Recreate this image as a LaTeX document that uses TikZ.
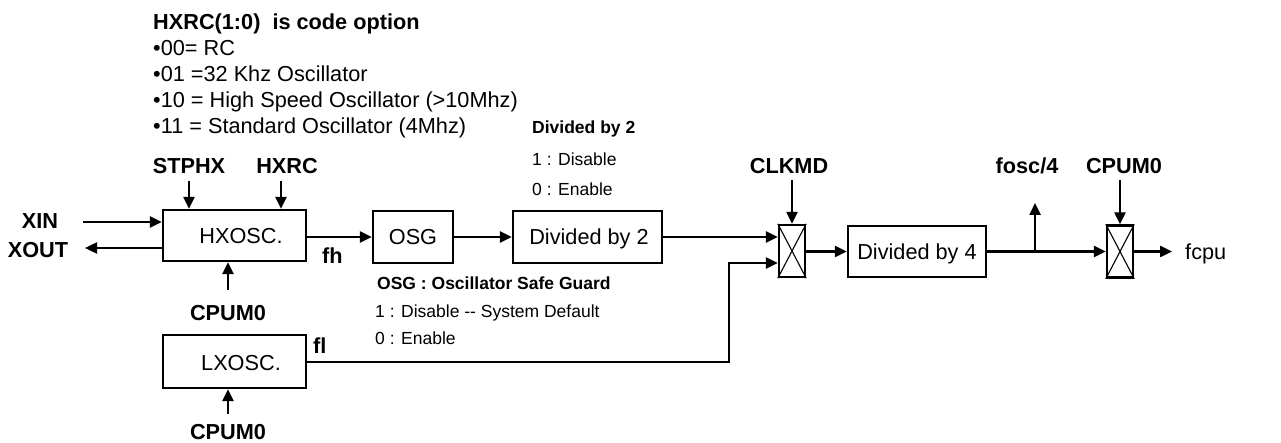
\documentclass[tikz,border=0pt]{standalone}
\usepackage{fontspec}
\setmainfont{Liberation Sans}
\usetikzlibrary{arrows.meta}
\begin{document}
\begin{tikzpicture}[x=1pt,y=-1pt,
  big/.style={font=\fontsize{21.7}{26}\selectfont, inner sep=0pt},
  bigb/.style={font=\bfseries\fontsize{21.7}{26}\selectfont, inner sep=0pt},
  small/.style={font=\fontsize{17.5}{21}\selectfont, inner sep=0pt, anchor=base west},
  smallb/.style={font=\bfseries\fontsize{17.5}{21}\selectfont, inner sep=0pt, anchor=base west},
  blk/.style={draw, line width=2.4pt, inner sep=0pt},
  muxbox/.style={draw, line width=2.4pt, inner sep=0pt, minimum width=26pt, minimum height=52pt},
  wire/.style={line width=2.4pt},
  arr/.style={wire, -{Triangle[length=12pt,width=11pt]}},
  xline/.style={line width=1.1pt},
]
\useasboundingbox (0,0) rectangle (1281,443);

% top text block
\node[bigb, anchor=base west] (title) at (153,30) {HXRC(1:0)\ \ is code option};
\node[big, anchor=base west] (b1) at (153,56) {•00= RC};
\node[big, anchor=base west] (b2) at (153,82) {•01 =32 Khz Oscillator};
\node[big, anchor=base west] (b3) at (153,108) {•10 = High Speed Oscillator (>10Mhz)};
\node[big, anchor=base west] (b4) at (153,134) {•11 = Standard Oscillator (4Mhz)};

\node[smallb] (d2t) at (532,134) {Divided by 2};
\node[small] (d2a) at (532,166) {1 : Disable};
\node[small] (d2b) at (532,196) {0 : Enable};

\node[smallb] (osgt) at (377,290) {OSG : Oscillator Safe Guard};
\node[small] (osga) at (375,317) {1 : Disable {-}{-} System Default};
\node[small] (osgb) at (375,344) {0 : Enable};

% blocks
\node[blk, minimum width=143pt, minimum height=51pt] (hx) at (234.5,235.5) {};
\node[big, anchor=base] (hxt) at (241,244) {HXOSC.};
\node[blk, minimum width=143pt, minimum height=53pt] (lx) at (234.5,361.5) {};
\node[big, anchor=base] (lxt) at (241,370) {LXOSC.};
\node[blk, minimum width=80pt, minimum height=52pt] (osg) at (413,237) {};
\node[big, anchor=base] (osgtx) at (413,245) {OSG};
\node[blk, minimum width=149pt, minimum height=52pt] (d2) at (587.5,237) {};
\node[big, anchor=base] (d2tx) at (589,245) {Divided by 2};
\node[muxbox] (m1) at (792,251) {};
\node[blk, minimum width=138pt, minimum height=51pt] (d4) at (917,251.5) {};
\node[big, anchor=base] (d4tx) at (917,259.5) {Divided by 4};
\node[muxbox] (m2) at (1120,251.5) {};
\draw[xline] (m1.north west) -- (m1.south east) (m1.north east) -- (m1.south west);
\draw[xline] (m2.north west) -- (m2.south east) (m2.north east) -- (m2.south west);

% labels
\node[bigb, anchor=base] (xin) at (40,229) {XIN};
\node[bigb, anchor=base] (xout) at (38,258) {XOUT};
\node[bigb, anchor=base] (stphx) at (189,174) {STPHX};
\node[bigb, anchor=base] (hxrc) at (287,174) {HXRC};
\node[bigb, anchor=base] (cpa) at (228,320) {CPUM0};
\node[bigb, anchor=base] (cpb) at (228,439) {CPUM0};
\node[bigb, anchor=base west] (fh) at (322,264) {fh};
\node[bigb, anchor=base west] (fl) at (313,353) {fl};
\node[bigb, anchor=base] (clkmd) at (789,174) {CLKMD};
\node[bigb, anchor=base] (fosc) at (1027,174) {fosc/4};
\node[bigb, anchor=base] (cpc) at (1124,174) {CPUM0};
\node[big, anchor=base west] (fcpu) at (1185,260) {fcpu};

% control arrows
\coordinate (xinS) at (83,222);
\coordinate (xoutE) at (85,248);
\draw[arr] (xinS) -- (xinS -| hx.west);
\draw[arr] (xoutE -| hx.west) -- (xoutE);
\coordinate (stS) at (189,181);
\coordinate (hrS) at (281,181);
\draw[arr] (stS) -- (stS |- hx.north);
\draw[arr] (hrS) -- (hrS |- hx.north);
\coordinate (cpaS) at (228,290);
\draw[arr] (cpaS) -- (cpaS |- hx.south);
\coordinate (cpbS) at (228,414);
\draw[arr] (cpbS) -- (cpbS |- lx.south);
\coordinate (clkS) at (792,180);
\draw[arr] (clkS) -- (m1.north);
\coordinate (cpcS) at (1120,180);
\draw[arr] (cpcS) -- (m2.north);

% data path
\draw[arr] (hx.east |- osg.west) -- (osg.west);
\draw[arr] (osg.east) -- (d2.west);
\draw[arr] (d2.east) -- (d2.east -| m1.west);
\coordinate (bend) at (729,362);
\coordinate (in2) at (729,263);
\draw[arr] (lx.east |- bend) -- (bend) -- (in2) -- (in2 -| m1.west);
\draw[arr] (m1.east |- d4.west) -- (d4.west);
\draw[arr] (d4.east) -- (m2.west);
\coordinate (br) at (1035,251.5);
\coordinate (foscT) at (1035,203);
\draw[arr] (br) -- (foscT);
\coordinate (outE) at (1172,251.5);
\draw[arr] (m2.east) -- (outE);
\end{tikzpicture}
\end{document}
